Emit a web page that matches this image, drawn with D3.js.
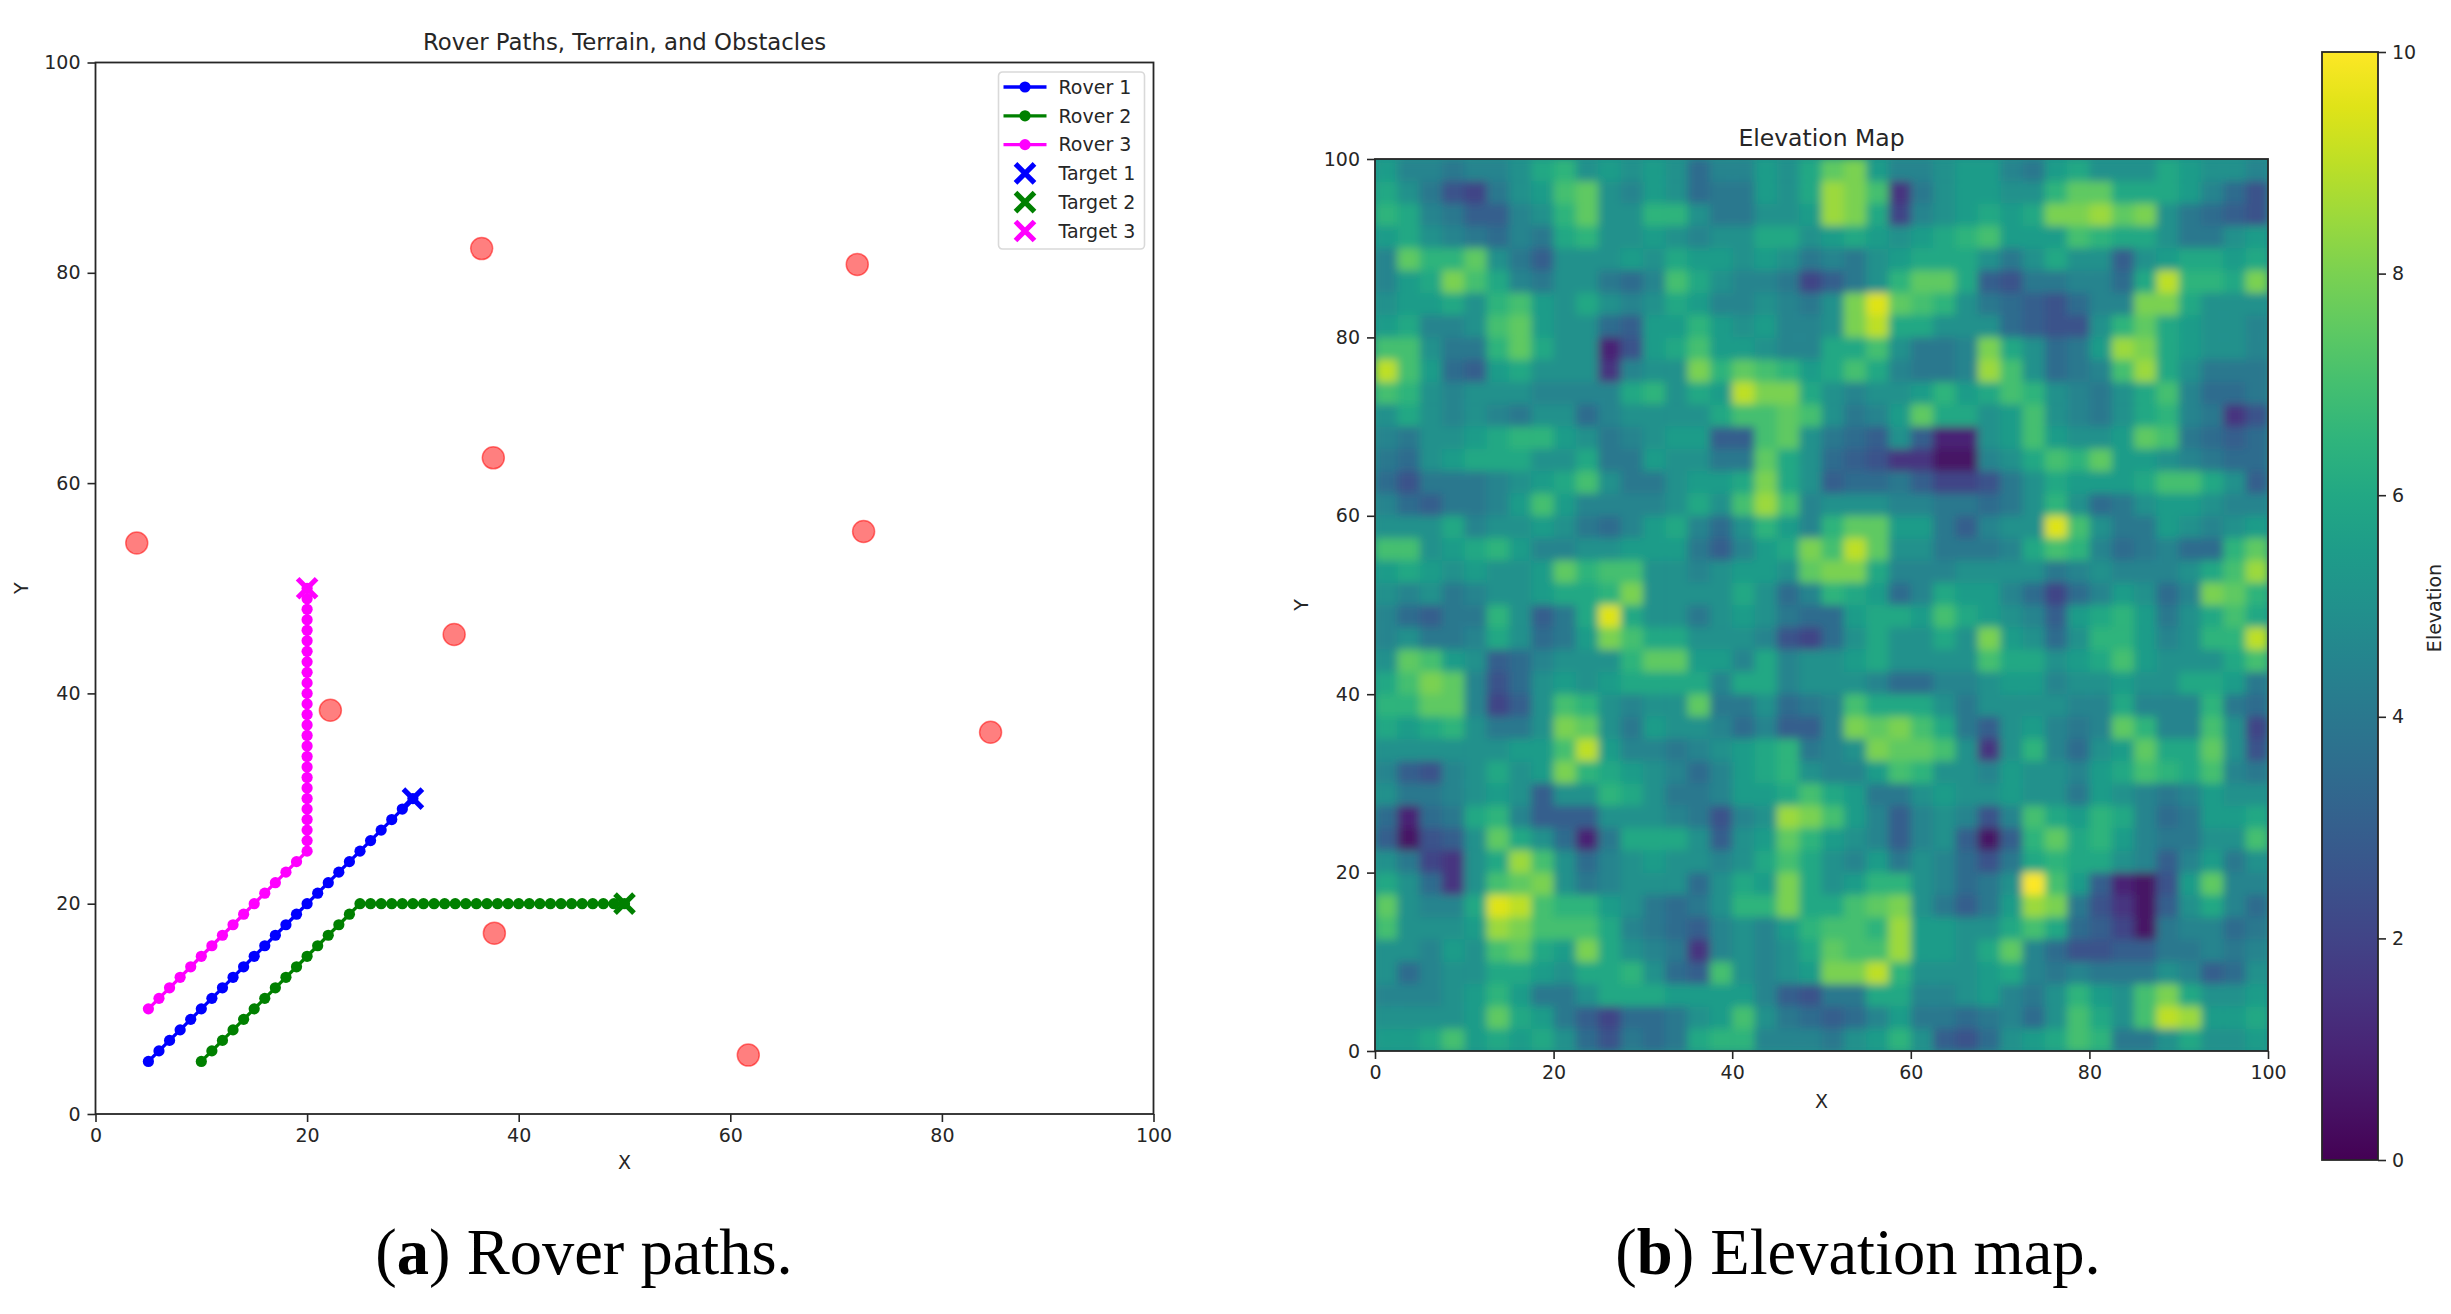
<!DOCTYPE html>
<html>
<head>
<meta charset="utf-8">
<script src="https://cdn.jsdelivr.net/npm/d3@7"></script>
<style>
  html, body { margin: 0; padding: 0; background: #fff; }
  text { font-family: "DejaVu Sans", sans-serif; fill: #262626; }
  .caption { font-family: "Liberation Serif", serif; fill: #000; }
</style>
</head>
<body>
<svg id="chart" width="2451" height="1314"></svg>
<script>
  var rover1X = [5,6,7,8,9,10,11,12,13,14,15,16,17,18,19,20,21,22,23,24,25,26,27,28,29,30]
  var rover1Y = [5,6,7,8,9,10,11,12,13,14,15,16,17,18,19,20,21,22,23,24,25,26,27,28,29,30]
  var rover2X = [10,11,12,13,14,15,16,17,18,19,20,21,22,23,24,25,26,27,28,29,30,31,32,33,34,35,36,37,38,39,40,41,42,43,44,45,46,47,48,49,50]
  var rover2Y = [5,6,7,8,9,10,11,12,13,14,15,16,17,18,19,20,20,20,20,20,20,20,20,20,20,20,20,20,20,20,20,20,20,20,20,20,20,20,20,20,20]
  var rover3X = [5,6,7,8,9,10,11,12,13,14,15,16,17,18,19,20,20,20,20,20,20,20,20,20,20,20,20,20,20,20,20,20,20,20,20,20,20,20,20,20,20]
  var rover3Y = [10,11,12,13,14,15,16,17,18,19,20,21,22,23,24,25,26,27,28,29,30,31,32,33,34,35,36,37,38,39,40,41,42,43,44,45,46,47,48,49,50]

  var roverNames = ["Rover 1", "Rover 2", "Rover 3"]
  var targetNames = ["Target 1", "Target 2", "Target 3"]
  var targetX = [30, 50, 20]
  var targetY = [30, 20, 50]
  var roverColors = ["#0000ff", "#008000", "#ff00ff"]

  var obstacleX = [36.5, 72, 37.6, 3.9, 72.6, 33.9, 22.2, 84.6, 37.7, 61.7]
  var obstacleY = [82.3, 80.8, 62.4, 54.3, 55.4, 45.6, 38.4, 36.3, 17.2, 5.6]

  var axisTicks = [0, 20, 40, 60, 80, 100]
  var colorbarTicks = [0, 2, 4, 6, 8, 10]

  // elevation, one row per 2.5 units, top row first
  var elevationRows = [
    [5.5,4.5,4.5,4,4.5,4.5,5,6,6.5,5,5.5,5,5.5,5,3.5,4.5,4.5,5.5,5,6, 7.5,8,5.5,4.5,4.5,5,5.5,5.5,4.5,4,5.5,6,5,5,5,6,5.5,5,5,4.5],
    [6,5,4,2.5,2,4,5,5.5,7,7.5,5,4.5,5.5,5,3.5,4,4,5.5,5,6, 8.5,8,7,1.5,4,5,5.5,5.5,5,5,6.5,7.5,7.5,6,6,6,5.5,4.5,3.5,2.5],
    [6.5,6,4.5,4,3,3,4.5,5,6.5,7.5,5,5,6.5,6.5,5,4,4,5,5,5.5, 8.5,8,6,2,4.5,5,5.5,6,5.5,6,8,8,8.5,7.5,8,5,4,3.5,3,2.5],
    [5.5,6,5,4.5,4,3.5,4.5,4,6,6.5,5,5,5.5,5,4.5,5,5,6,6,5, 5.5,6,5.5,5,5.5,6,6.5,7,5.5,5.5,5.5,7,6.5,6,6,5,4,4,5,5.5],
    [4.5,7.5,6.5,6.5,7.5,5,4,3,5,5,5,5.5,5,6,5.5,5.5,5,5.5,5,4, 4.5,4,5,5.5,6,6,6,5,4,5,6,5,5,3,5,5.5,6,6,5.5,6],
    [4.5,5.5,6,8,7,6,4.5,4,5,5,4,3.5,4.5,7,6,5,4.5,4.5,4,2, 3,4,5,6.5,7.5,7.5,6,3,2.5,4,4,4.5,4.5,3.5,6,9,6.5,6.5,6,8],
    [5,5.5,5.5,6,5,6.5,7,5.5,5,6,5,4.5,5,6,5.5,4.5,4.5,5,4.5,4, 5,8,9.5,7.5,7,6.5,5,4,3.5,3,2.5,3.5,4.5,4.5,8,8,6,5,5,5],
    [5.5,6,4.5,4.5,5,7,7.5,5.5,5,5,3.5,3,5.5,5.5,6.5,5.5,5,5.5,4.5,4.5, 5,8,9,6,6,5,5,5,3.5,3,2.5,2.5,5,6.5,7.5,6,5.5,5,5,4.5],
    [7,7,5,4,4,6.5,7.5,6,5,5,1,2.5,5.5,6,7,5.5,5.5,5,4.5,4.5, 6,6,7,5,4,4,4.5,8,6,5,3.5,4,5.5,8.5,8,6,5.5,5,5,4.5],
    [9,7,5.5,3.5,3,5.5,6,5,5,5,1.5,4.5,5,5,8,6.5,7.5,7,6.5,5.5, 6,7,6,4.5,4,4,4.5,8.5,7,5,3.5,4,4.5,7,8.5,6,5,4,4,4],
    [7,6.5,5,4.5,5,5,5,4.5,4.5,4.5,4.5,6,6.5,5,6,5.5,9,8,8,6, 5,4.5,5,5,5.5,6.5,5.5,6,7,6.5,5,4.5,4,5,6,7,4.5,3.5,3.5,4],
    [5,6,5,4.5,5,4.5,4,5,5,3.5,4.5,5,5,5,5,6,7,7,7.5,7, 5,4,4.5,5.5,7.5,6,6,5,5.5,7,5,4.5,4,5,6,6.5,4.5,4,1.5,2.5],
    [4.5,4,5,5,5.5,6,6.5,6.5,5.5,5,4,4.5,5,5.5,5.5,3,3,7,7.5,5, 4,3.5,3,5,3,1,1,5,5.5,7,5.5,5,5,5.5,7.5,7,4,3.5,3,3.5],
    [4,3.5,5,5.5,6,6,6,5,5,6,4,4,5.5,5,5,4,4,7.5,6,5, 3.5,3,2.5,1.5,1.5,0.5,0.5,4.5,5,6,7,6.5,7.5,5.5,5.5,5,4.5,4,3.5,3.5],
    [3.5,2.5,4,4,4,4.5,5,5.5,6,7,5,4,4,5,5.5,5.5,6,8,6,5, 3,3.5,3.5,4,3,2,2,2.5,4,5,6,5.5,5.5,5.5,6,7,7,6,5,3],
    [4.5,3.5,3,4,4,4.5,5.5,7,5.5,4.5,4.5,4.5,4.5,5,6,5,7,8.5,7,4.5, 5,5,5,4.5,4.5,4,4,3.5,4,5,6.5,5,3.5,4,5,5.5,5.5,5,4.5,4.5],
    [5,5,5,6,4.5,5,5,5.5,5,4,3.5,4.5,5.5,6,4.5,3.5,5,6.5,5.5,4.5, 6.5,7.5,7.5,5.5,5.5,4,3,4.5,5,5,9.5,7,5,4,4,5.5,5,4.5,5,5.5],
    [7,7,5,5.5,6,6.5,5.5,4.5,4.5,5,5,5.5,5.5,5.5,4,3,4.5,5.5,6,8, 7,9,7.5,5,5,4,4,4,4.5,6,7,6.5,4.5,3.5,4,4.5,3.5,3.5,6.5,7.5],
    [5.5,6,5.5,5,5.5,5,5,5.5,7.5,6.5,7,7,5,5,4.5,5,5.5,5.5,5,7.5, 8,8,6,4.5,4.5,4.5,5,5,5,5,4,4.5,5,4.5,4.5,4.5,5,6,7,8.5],
    [5,4.5,5,4,4.5,5,5,5.5,6,6,6.5,8,5,5,5,5,6,5,3.5,4.5, 6.5,6,5.5,3.5,4.5,6,5.5,5.5,4.5,3.5,2,3.5,4.5,5.5,5,3.5,4.5,8,7.5,6.5],
    [4.5,3.5,3,4,4,6.5,5,3,4,6,9.5,6,5,5,4,5,5.5,5,4,3.5, 3.5,5.5,6,6,5.5,7,6,5.5,5,4.5,3,5.5,6,6.5,5.5,4,5,6,7,6],
    [4.5,5,4,4,4.5,6,5,3.5,4,5.5,8,7,6,6,5,5,5,4.5,2.5,2, 3.5,5,6,5,5,6,5,8,5.5,5,3.5,5,6.5,6.5,5.5,4.5,5,6.5,6.5,9],
    [5,7.5,7,5.5,5,3,3.5,4.5,5,5,5,6.5,7.5,7.5,5.5,5.5,4.5,6,4.5,5, 5,5.5,6,5,5,5,5,7,6,6,5,5.5,6,7,5.5,5,5,5,6,7],
    [6,7,8,7.5,4.5,2.5,3.5,5,5.5,5,5.5,6,6,6,6,4.5,6,6,4.5,5, 5,5,4.5,3.5,3.5,4.5,4.5,5,5.5,5.5,4.5,5,5,5.5,5,5,6,6,5.5,4],
    [6.5,6.5,7.5,7.5,4.5,2,3,5,7,6.5,5,4.5,5,5,7.5,4,4,5,3.5,4, 4.5,7,6,6,6,5,4,5,5,5,5,4.5,4.5,6,4.5,4.5,4.5,6.5,4,3.5],
    [6,5.5,6,6.5,5,4,4,5,8,7.5,5,4,5.5,5,5,4.5,3.5,4.5,3,3, 4.5,8,7.5,8,7,6,4,3,5,5.5,4.5,4,4.5,7.5,6.5,4.5,4.5,7,5,2],
    [5,5,5,5,5,5,5.5,5.5,7,9,5.5,4.5,4.5,4,4.5,5,5.5,6,6.5,4, 4.5,5,8,7.5,7.5,7,5,1.5,5,6.5,4.5,3.5,5,5.5,7.5,6,6,7.5,5,2.5],
    [4.5,3,2.5,4.5,5,6,5,5.5,8,6.5,6,5.5,5,4.5,3.5,4.5,5.5,6,6.5,5, 4.5,4.5,5.5,7,6.5,5,5,4.5,5.5,5,5,4.5,5.5,6,7,6.5,6,7,4.5,4],
    [5,4,4,4.5,5,5.5,5,3,5,5,6.5,6,5,4,4,4.5,5.5,5.5,6,7, 6,5.5,4,4,5,5.5,5,5,5.5,5,5,4,5.5,5,4.5,4,4.5,5.5,5,5],
    [3.5,1,3.5,4,6,6.5,4.5,3,3,3,5,5,5,4.5,4,2.5,4.5,5,8.5,8, 7,5.5,4.5,3,4.5,5,4.5,2.5,4.5,7,6,5.5,6.5,6,4.5,3.5,4,5.5,5.5,6],
    [3,0.5,2.5,3,5,7.5,6,5,3.5,1,4,6,6,6,5,3,5,5.5,7.5,6.5, 5.5,5,4.5,3,4.5,5,3,0.5,3,6.5,7.5,6,6.5,5.5,4.5,4,4,5,5,7],
    [5,4,2,1.5,5,6,8.5,7,5,3.5,4.5,5,5.5,5,5,4.5,5,6,7,6, 5,4.5,5.5,4,5,4.5,3.5,2.5,4,6,6.5,6,6,5,4.5,3,4.5,5.5,4,5],
    [6,5,3.5,1.5,5,7,7.5,8,5,4,4.5,5,5,5,3.5,5,6,5.5,8,6, 5,5.5,6.5,6.5,5,4.5,3.5,4,5,10,7,5.5,3,1,0.5,2.5,5.5,7.5,4.5,4.5],
    [7.5,5,4.5,4.5,6,9.5,9,7,6.5,6.5,5.5,5,4,3.5,4,5,6.5,6.5,8,6, 6,7,7.5,8,5,4,3,4,5.5,8.5,8,4,2.5,1.5,0.5,3,5,6,4.5,3.5],
    [7,5,5,5,5.5,8.5,8,7,7,7,6,4.5,4,3.5,3,4.5,5,4.5,5.5,6.5, 7,7,6.5,8.5,5.5,5.5,5,5,6,7,6,3.5,3,2,0.5,4,4.5,4.5,3.5,4],
    [5,5,4.5,5.5,5,7,7.5,6,5.5,8,6,5,4.5,4,1.5,4.5,5,4.5,5,6, 7.5,7,7,8.5,5.5,5.5,5,6,7.5,4.5,3.5,2.5,2.5,3,3,4,4,4.5,4,4.5],
    [5,3.5,4.5,5,5,6,6,5.5,5,6,6,6.5,5,3.5,3,7,5,4.5,5,5.5, 8,8,9,6.5,5,5,5,5.5,6,4.5,4,4.5,4,4,4,5,4.5,3,3.5,5],
    [4.5,4.5,4.5,5,5.5,6.5,5.5,4,4,5,6,6,6,5.5,5.5,5.5,5.5,4.5,3,2.5, 4,4,6,6,4.5,4.5,5,5.5,4.5,4,5,6.5,5.5,5,7,8,6,5,5,5.5],
    [5,5,5,5,5.5,7.5,6,5.5,4,3,2,3.5,3.5,4,5,5.5,7,5,4,3.5, 3,3.5,4.5,5.5,4,4,3.5,4,4.5,3.5,5,7,6,5,7,9,8.5,5.5,5.5,6],
    [5.5,5.5,6,7,5.5,6,5.5,6,5,3.5,2.5,4,3.5,4,6,6.5,6.5,4.5,4.5,4.5, 4,5,5.5,6.5,5,3,2.5,3.5,5,5.5,6,7,6.5,4,4,5,6,5,5,5.5]
  ]

  var tickColor = "#262626"
  var svg = d3.select("#chart")

  function drawAxes(group, xScale, yScale) {
    var height = yScale.range()[0]
    var xAxis = d3.axisBottom(xScale).tickValues(axisTicks).tickSize(8).tickPadding(7)
    var yAxis = d3.axisLeft(yScale).tickValues(axisTicks).tickSize(8).tickPadding(7)

    group.append("g").attr("transform", `translate(0,${height})`).call(xAxis)
    group.append("g").call(yAxis)

    group.selectAll(".domain").remove()
    group.selectAll(".tick line").attr("stroke", tickColor).attr("stroke-width", 1.6)
    group.selectAll(".tick text").attr("font-size", 19)
      .attr("font-family", "DejaVu Sans").style("fill", tickColor)

    // frame on top of the marks
    group.append("rect")
      .attr("width", xScale.range()[1])
      .attr("height", height)
      .attr("fill", "none")
      .attr("stroke", tickColor)
      .attr("stroke-width", 1.8)
  }

  function displayPaths() {
    var margin = { left: 95.5, top: 62.5 }
    var bodyWidth = 1058
    var bodyHeight = 1051.5

    var xScale = d3.scaleLinear().domain([0, 100]).range([0, bodyWidth])
    var yScale = d3.scaleLinear().domain([0, 100]).range([bodyHeight, 0])

    var container = svg.append("g").attr("transform", `translate(${margin.left},${margin.top})`)

    var roverXs = [rover1X, rover2X, rover3X]
    var roverYs = [rover1Y, rover2Y, rover3Y]
    var line = d3.line().x(d => xScale(d[0])).y(d => yScale(d[1]))

    container.selectAll(".obstacle")
      .data(obstacleX.map((x, i) => [x, obstacleY[i]]))
      .enter().append("circle")
      .attr("class", "obstacle")
      .attr("cx", d => xScale(d[0]))
      .attr("cy", d => yScale(d[1]))
      .attr("r", 11)
      .attr("fill", "#ff0000")
      .attr("fill-opacity", 0.5)
      .attr("stroke", "#ff0000")
      .attr("stroke-opacity", 0.5)
      .attr("stroke-width", 1.5)

    roverNames.forEach((name, i) => {
      var points = roverXs[i].map((x, j) => [x, roverYs[i][j]])
      container.append("path")
        .attr("d", line(points))
        .attr("fill", "none")
        .attr("stroke", roverColors[i])
        .attr("stroke-width", 3.3)
      container.selectAll(".dot" + i)
        .data(points)
        .enter().append("circle")
        .attr("class", "dot" + i)
        .attr("cx", d => xScale(d[0]))
        .attr("cy", d => yScale(d[1]))
        .attr("r", 5.6)
        .attr("fill", roverColors[i])
    })

    targetNames.forEach((name, i) => {
      container.append("path")
        .attr("d", "M-9.5,-9.5L9.5,9.5M-9.5,9.5L9.5,-9.5")
        .attr("transform", `translate(${xScale(targetX[i])},${yScale(targetY[i])})`)
        .attr("stroke", roverColors[i])
        .attr("stroke-width", 5.2)
    })

    drawAxes(container, xScale, yScale)

    container.append("text").attr("x", bodyWidth / 2).attr("y", -13)
      .attr("text-anchor", "middle").attr("font-size", 22.8)
      .text("Rover Paths, Terrain, and Obstacles")
    container.append("text").attr("x", bodyWidth / 2).attr("y", bodyHeight + 55)
      .attr("text-anchor", "middle").attr("font-size", 19).text("X")
    container.append("text")
      .attr("transform", `translate(-68,${bodyHeight / 2}) rotate(-90)`)
      .attr("text-anchor", "middle").attr("font-size", 19).text("Y")

    // legend
    var legend = container.append("g").attr("transform", "translate(903,9.5)")
    legend.append("rect")
      .attr("width", 146).attr("height", 177).attr("rx", 4)
      .attr("fill", "#fff").attr("stroke", "#d9d9d9").attr("stroke-width", 1.6)

    var rowY = d3.scalePoint().domain(d3.range(6)).range([15, 159])

    roverNames.forEach((name, i) => {
      legend.append("line")
        .attr("x1", 5).attr("x2", 48)
        .attr("y1", rowY(i)).attr("y2", rowY(i))
        .attr("stroke", roverColors[i]).attr("stroke-width", 3.3)
      legend.append("circle")
        .attr("cx", 26.5).attr("cy", rowY(i)).attr("r", 5.6)
        .attr("fill", roverColors[i])
      legend.append("text")
        .attr("x", 60).attr("y", rowY(i)).attr("dy", "0.36em")
        .attr("font-size", 19).text(name)
    })
    targetNames.forEach((name, i) => {
      legend.append("path")
        .attr("d", "M-9.5,-9.5L9.5,9.5M-9.5,9.5L9.5,-9.5")
        .attr("transform", `translate(26.5,${rowY(i + 3)})`)
        .attr("stroke", roverColors[i]).attr("stroke-width", 5.2)
      legend.append("text")
        .attr("x", 60).attr("y", rowY(i + 3)).attr("dy", "0.36em")
        .attr("font-size", 19).text(name)
    })
  }

  function displayElevation() {
    var margin = { left: 1375, top: 159 }
    var bodyWidth = 893
    var bodyHeight = 892

    var xScale = d3.scaleLinear().domain([0, 100]).range([0, bodyWidth])
    var yScale = d3.scaleLinear().domain([0, 100]).range([bodyHeight, 0])
    var colorScale = d3.scaleSequential(d3.interpolateViridis).domain([0, 10])

    var colBand = d3.scaleBand().domain(d3.range(elevationRows[0].length)).range([0, bodyWidth])
    var rowBand = d3.scaleBand().domain(d3.range(elevationRows.length)).range([0, bodyHeight])

    var defs = svg.append("defs")
    // soften the coarse cells, the source image is much finer than this grid
    var soften = defs.append("filter").attr("id", "soften")
      .attr("filterUnits", "userSpaceOnUse")
      .attr("x", 0).attr("y", 0).attr("width", bodyWidth).attr("height", bodyHeight)
    soften.append("feGaussianBlur").attr("stdDeviation", 4.5)

    var container = svg.append("g").attr("transform", `translate(${margin.left},${margin.top})`)

    // sits under the blur so the edges do not fade to white
    container.append("rect")
      .attr("width", bodyWidth).attr("height", bodyHeight)
      .attr("fill", colorScale(5))

    container.append("g").attr("filter", "url(#soften)")
      .selectAll(".row")
      .data(elevationRows)
      .enter().append("g")
      .attr("class", "row")
      .attr("transform", (d, i) => `translate(0,${rowBand(i)})`)
      .selectAll("rect")
      .data(d => d)
      .enter().append("rect")
      .attr("x", (d, i) => colBand(i))
      .attr("width", colBand.bandwidth() + 0.5)
      .attr("height", rowBand.bandwidth() + 0.5)
      .attr("fill", d => colorScale(d))

    drawAxes(container, xScale, yScale)

    container.append("text").attr("x", bodyWidth / 2).attr("y", -13)
      .attr("text-anchor", "middle").attr("font-size", 23.5).text("Elevation Map")
    container.append("text").attr("x", bodyWidth / 2).attr("y", bodyHeight + 57)
      .attr("text-anchor", "middle").attr("font-size", 19).text("X")
    container.append("text")
      .attr("transform", `translate(-67,${bodyHeight / 2}) rotate(-90)`)
      .attr("text-anchor", "middle").attr("font-size", 19).text("Y")
  }

  function displayColorbar() {
    var left = 2322, top = 52, barWidth = 56, barHeight = 1108
    var scale = d3.scaleLinear().domain([0, 10]).range([barHeight, 0])

    var defs = svg.append("defs")
    var gradient = defs.append("linearGradient")
      .attr("id", "viridis").attr("x1", 0).attr("x2", 0).attr("y1", 1).attr("y2", 0)
    d3.range(0, 1.001, 0.05).forEach(t => {
      gradient.append("stop")
        .attr("offset", t)
        .attr("stop-color", d3.interpolateViridis(t))
    })

    var container = svg.append("g").attr("transform", `translate(${left},${top})`)
    container.append("rect")
      .attr("width", barWidth).attr("height", barHeight)
      .attr("fill", "url(#viridis)")
      .attr("stroke", tickColor).attr("stroke-width", 1.8)

    var axis = d3.axisRight(scale).tickValues(colorbarTicks).tickSize(8).tickPadding(6)
    var g = container.append("g").attr("transform", `translate(${barWidth},0)`).call(axis)
    g.select(".domain").remove()
    g.selectAll(".tick line").attr("stroke", tickColor).attr("stroke-width", 1.6)
    g.selectAll(".tick text").attr("font-size", 19)
      .attr("font-family", "DejaVu Sans").style("fill", tickColor)

    container.append("text")
      .attr("transform", `translate(${2434 - left},${608 - top}) rotate(-90)`)
      .attr("text-anchor", "middle").attr("dy", "0.35em")
      .attr("font-size", 19).text("Elevation")
  }

  function displayCaption(x, letter, rest) {
    var t = svg.append("text").attr("class", "caption")
      .attr("x", x).attr("y", 1274).attr("text-anchor", "middle")
      .attr("font-size", 64.5)
    t.append("tspan").text("(")
    t.append("tspan").attr("font-weight", "bold").text(letter)
    t.append("tspan").text(") " + rest)
  }

  displayPaths()
  displayElevation()
  displayColorbar()
  displayCaption(584, "a", "Rover paths.")
  displayCaption(1858, "b", "Elevation map.")
</script>
</body>
</html>
